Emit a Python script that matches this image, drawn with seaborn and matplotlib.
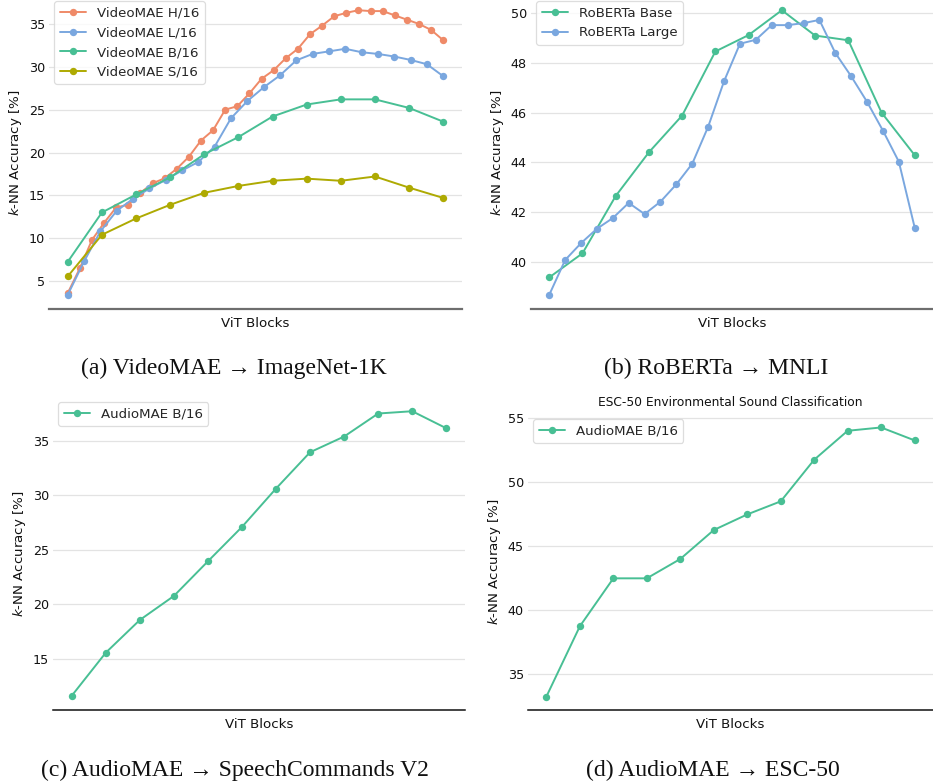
import numpy as np
import pandas as pd
import matplotlib
matplotlib.use("Agg")
import matplotlib.pyplot as plt
import seaborn as sns

# ---------------- data ----------------
videomae_h16 = [3.6, 6.5, 9.8, 11.8, 13.6, 13.9, 15.3, 16.4, 17.0, 18.1, 19.5, 21.4, 22.6, 25.0, 25.4, 26.9,
                28.6, 29.6, 31.0, 32.1, 33.8, 34.8, 35.9, 36.3, 36.6, 36.5, 36.5, 36.0, 35.5, 35.0, 34.3, 33.1]
videomae_l16 = [3.4, 7.3, 10.8, 13.2, 14.6, 15.8, 16.8, 17.9, 18.9, 20.7, 24.0, 26.0, 27.6, 29.0, 30.75, 31.5,
                31.8, 32.1, 31.7, 31.5, 31.2, 30.8, 30.3, 28.9]
videomae_b16 = [7.25, 13.0, 15.1, 17.1, 19.8, 21.8, 24.2, 25.6, 26.2, 26.2, 25.2, 23.6]
videomae_s16 = [5.55, 10.4, 12.3, 13.9, 15.3, 16.1, 16.7, 16.95, 16.7, 17.2, 15.9, 14.7]

roberta_base = [39.37, 40.34, 42.65, 44.41, 45.89, 48.47, 49.13, 50.13, 49.11, 48.92, 46.01, 44.29]
roberta_large = [38.67, 40.07, 40.75, 41.33, 41.76, 42.37, 41.92, 42.42, 43.12, 43.95, 45.44, 47.27,
                 48.78, 48.94, 49.53, 49.53, 49.61, 49.74, 48.41, 47.47, 46.44, 45.28, 44.03, 41.37]

audiomae_speech = [11.6, 15.55, 18.55, 20.75, 23.93, 27.08, 30.6, 33.93, 35.37, 37.48, 37.69, 36.13]
audiomae_esc = [33.26, 38.75, 42.49, 42.49, 44.0, 46.26, 47.48, 48.5, 51.75, 54.01, 54.27, 53.26]

captions = ["(a) VideoMAE \u2192 ImageNet-1K", "(b) RoBERTa \u2192 MNLI",
            "(c) AudioMAE \u2192 SpeechCommands V2", "(d) AudioMAE \u2192 ESC-50"]
esc_title = "ESC-50 Environmental Sound Classification"

C_ORANGE = "#ef8a68"
C_BLUE = "#7aa7df"
C_GREEN = "#48bf94"
C_OLIVE = "#aeaa02"


def long_frame(series):
    rows = []
    for name, vals in series:
        n = len(vals)
        for i, v in enumerate(vals):
            rows.append({"model": name, "depth": i / (n - 1), "acc": v})
    return pd.DataFrame(rows)


sns.set_theme(style="white")
plt.rcParams["font.family"] = ["DejaVu Sans"]

W, H = 933, 784
fig = plt.figure(figsize=(W / 100, H / 100), dpi=100)


def px_axes(left, right, top, bottom):
    return fig.add_axes([left / W, 1 - bottom / H, (right - left) / W, (bottom - top) / H])


def style_axes(ax, spine_color, spine_lw):
    ax.grid(axis="y", color="#e3e3e3", linewidth=0.9)
    ax.grid(axis="x", visible=False)
    for s in ["left", "right", "top"]:
        ax.spines[s].set_visible(False)
    ax.spines["bottom"].set_color(spine_color)
    ax.spines["bottom"].set_linewidth(spine_lw)
    ax.set_xticks([])
    ax.tick_params(axis="y", length=0, pad=3, labelsize=9.2, colors="#111111")
    ax.set_xlabel("ViT Blocks", fontsize=9.6, labelpad=6, color="#111111")
    ax.set_ylabel(r"$k$-NN Accuracy [%]", fontsize=9.6, labelpad=3, color="#111111")
    ax.set_axisbelow(True)


def draw(ax, series, colors):
    df = long_frame(series)
    sns.lineplot(data=df, x="depth", y="acc", hue="model", palette=colors, marker="o",
                 markersize=5.3, markeredgewidth=0, linewidth=1.4, ax=ax)
    leg = ax.legend(loc="upper left", fontsize=9.6, frameon=True, borderaxespad=0.4)
    leg.get_frame().set_edgecolor("#d5d5d5")
    leg.get_frame().set_linewidth(0.9)


# (a)
ax_a = px_axes(49, 462, -4, 309)
draw(ax_a, [("VideoMAE H/16", videomae_h16), ("VideoMAE L/16", videomae_l16),
            ("VideoMAE B/16", videomae_b16), ("VideoMAE S/16", videomae_s16)],
     [C_ORANGE, C_BLUE, C_GREEN, C_OLIVE])
style_axes(ax_a, "#6e6e6e", 1.6)
ax_a.set_yticks([5, 10, 15, 20, 25, 30, 35])

# (b)
ax_b = px_axes(531, 933, -4, 309)
draw(ax_b, [("RoBERTa Base", roberta_base), ("RoBERTa Large", roberta_large)], [C_GREEN, C_BLUE])
style_axes(ax_b, "#6e6e6e", 1.6)
ax_b.set_yticks([40, 42, 44, 46, 48, 50])

# (c)
ax_c = px_axes(53, 465, 397, 710)
draw(ax_c, [("AudioMAE B/16", audiomae_speech)], [C_GREEN])
style_axes(ax_c, "#111111", 1.1)
ax_c.set_yticks([15, 20, 25, 30, 35])

# (d)
ax_d = px_axes(528, 933, 414, 710)
draw(ax_d, [("AudioMAE B/16", audiomae_esc)], [C_GREEN])
style_axes(ax_d, "#111111", 1.1)
ax_d.set_yticks([35, 40, 45, 50, 55])
ax_d.set_title(esc_title, fontsize=8.8, pad=6, color="#111111")

# captions
serif = ["Liberation Serif", "DejaVu Serif"]
cap_pos = [(234, 368), (716, 368), (235, 770), (713, 770)]
for text, (cx, cy) in zip(captions, cap_pos):
    fig.text(cx / W, 1 - cy / H, text, ha="center", va="center", fontsize=17,
             family=serif, color="#111111")

fig.savefig("out.png", dpi=100)
